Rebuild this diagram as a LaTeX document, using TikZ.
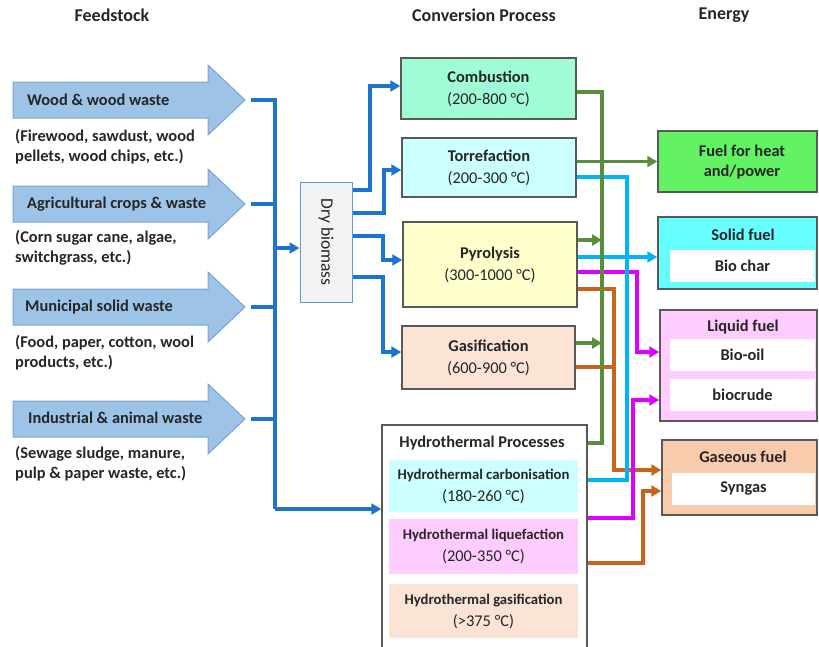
\documentclass[tikz,border=0pt]{standalone}
\usepackage{fontspec}
\setmainfont{Carlito}
\usetikzlibrary{arrows.meta,calc}
\definecolor{txt}{HTML}{262626}
\definecolor{bord}{HTML}{595959}
\definecolor{lblue}{HTML}{1C74CF}
\definecolor{lgreen}{HTML}{5A8D3C}
\definecolor{lcyan}{HTML}{00B4F5}
\definecolor{lmag}{HTML}{DD00FF}
\definecolor{lorange}{HTML}{C9621A}
\definecolor{fsfill}{HTML}{9DC3E6}
\definecolor{fsbord}{HTML}{7BA4D6}
\definecolor{cComb}{HTML}{A0FCD4}
\definecolor{cTorr}{HTML}{CCFFFF}
\definecolor{cPyro}{HTML}{FFFFCC}
\definecolor{cGasi}{HTML}{FBE4D6}
\definecolor{cLiq}{HTML}{FFCCFF}
\definecolor{cHeat}{HTML}{63F263}
\definecolor{cSolid}{HTML}{66FFFF}
\definecolor{cGas}{HTML}{F8CBAD}
\definecolor{cDry}{HTML}{F2F2F2}
\definecolor{cDryB}{HTML}{5B9BD5}
\begin{document}
\begin{tikzpicture}[x=1pt,y=-1pt,
  every node/.style={text=txt, inner sep=0pt, font=\fontsize{16.4}{22}\selectfont\bfseries},
  box/.style={draw=bord, line width=1.5pt, inner sep=0pt, align=center},
  sub/.style={inner sep=0pt, align=center},
  fsarrow/.style={draw=fsbord, line width=1pt, fill=fsfill},
  conn/.style={line width=3.4pt, line join=miter},
  tip/.style={-{Triangle[length=10pt,width=11pt]}},
  bl/.style={conn, draw=lblue},
  gr/.style={conn, draw=lgreen},
  cy/.style={conn, draw=lcyan},
  mg/.style={conn, draw=lmag},
  og/.style={conn, draw=lorange},
  hdr/.style={font=\fontsize{18}{22}\selectfont\bfseries},
  fsub/.style={anchor=west, align=left, font=\fontsize{16.4}{20}\selectfont\bfseries},
  hsub/.style={sub, font=\fontsize{14.7}{22}\selectfont\bfseries},
  tmp/.style={font=\fontsize{16.4}{22}\selectfont\mdseries}
]
\clip (0,0) rectangle (819,646);
\useasboundingbox (0,0) rectangle (819,646);

% headers
\node[hdr] (hFeed) at (112,15) {Feedstock};
\node[hdr] (hConv) at (484,15) {Conversion Process};
\node[hdr] (hEner) at (724,15) {Energy};

% feedstock arrows
\foreach \c/\n in {100/1,204/2,307/3,419/4}{
  \draw[fsarrow] (13,\c-18) -- (208,\c-18) -- (208,\c-35) -- (245,\c) -- (208,\c+35) -- (208,\c+18) -- (13,\c+18) -- cycle;
  \coordinate (f\n) at (251,\c);
}
\node[anchor=west] (l1) at (27,100) {Wood \& wood waste};
\node[anchor=west] (l2) at (27,204) {Agricultural crops \& waste};
\node[anchor=west] (l3) at (25,307) {Municipal solid waste};
\node[anchor=west] (l4) at (28,418) {Industrial \& animal waste};
\node[fsub] (s1) at (15,147) {(Firewood, sawdust, wood\\pellets, wood chips, etc.)};
\node[fsub] (s2) at (15,248) {(Corn sugar cane, algae,\\switchgrass, etc.)};
\node[fsub] (s3) at (15,353) {(Food, paper, cotton, wool\\products, etc.)};
\node[fsub] (s4) at (15,464) {(Sewage sludge, manure,\\pulp \& paper waste, etc.)};

% dry biomass
\node[draw=cDryB, line width=1pt, fill=cDry, minimum width=52pt, minimum height=120pt] (dry) at (326,242) {};
\node[rotate=-90, font=\fontsize{17.5}{22}\selectfont\mdseries] (dryt) at (dry.center) {Dry biomass};

% conversion boxes
\node[box, fill=cComb, minimum width=175pt, minimum height=61pt] (comb) at (488.5,88.5) {Combustion\\{\mdseries (200-800 °C)}};
\node[box, fill=cTorr, minimum width=174pt, minimum height=59pt] (torr) at (489,167.5) {Torrefaction\\{\mdseries (200-300 °C)}};
\node[box, fill=cPyro, minimum width=174pt, minimum height=85pt] (pyro) at (490,264.5) {Pyrolysis\\{\mdseries (300-1000 °C)}};
\node[box, fill=cGasi, minimum width=173pt, minimum height=63pt] (gasi) at (488.5,357.5) {Gasification\\{\mdseries (600-900 °C)}};
\node[box, fill=white, minimum width=205pt, minimum height=235pt] (hydro) at (484.5,542.5) {};
\node (hydt) at (482,443) {Hydrothermal Processes};
\node[hsub, fill=cTorr, minimum width=189pt, minimum height=52pt] (hcarb) at (483.5,486) {Hydrothermal carbonisation\\{\fontsize{16.4}{22}\selectfont\mdseries (180-260 °C)}};
\node[hsub, fill=cLiq, minimum width=189pt, minimum height=55pt] (hliq) at (483.5,546.5) {Hydrothermal liquefaction\\{\fontsize{16.4}{22}\selectfont\mdseries (200-350 °C)}};
\node[hsub, fill=cGasi, minimum width=189pt, minimum height=54pt] (hgas) at (483.5,611) {Hydrothermal gasification\\{\fontsize{16.4}{22}\selectfont\mdseries (>375 °C)}};

% energy boxes
\node[box, fill=cHeat, minimum width=159pt, minimum height=61pt] (heat) at (737.5,161.5) {};
\node[align=center, font=\fontsize{16.4}{20}\selectfont\bfseries] (heatt) at (742,162) {Fuel for heat\\and/power};
\node[box, fill=cSolid, minimum width=159pt, minimum height=72pt] (solid) at (737.5,253) {};
\node (solidt) at (743,235) {Solid fuel};
\node[sub, fill=white, minimum width=145pt, minimum height=32pt] (biochar) at (742.5,266) {Bio char};
\node[box, fill=cLiq, minimum width=157pt, minimum height=111pt] (liquid) at (738.5,365.5) {};
\node (liquidt) at (743,327) {Liquid fuel};
\node[sub, fill=white, minimum width=145pt, minimum height=32pt] (biooil) at (742.5,355) {Bio-oil};
\node[sub, fill=white, minimum width=145pt, minimum height=32pt] (biocrude) at (742.5,395) {biocrude};
\node[box, fill=cGas, minimum width=155pt, minimum height=75pt] (gas) at (739.5,477.5) {};
\node (gast) at (743,457) {Gaseous fuel};
\node[sub, fill=white, minimum width=143pt, minimum height=32pt] (syngas) at (743.5,489) {Syngas};

% blue feed connectors
\coordinate (bT) at (275,100);
\coordinate (bB) at (275,509);
\coordinate (bD) at (275,248);
\draw[bl] (f1) -- (bT) -- (bB);
\draw[bl] (f2) -- (f2 -| bT);
\draw[bl] (f3) -- (f3 -| bT);
\draw[bl] (f4) -- (f4 -| bT);
\draw[bl,tip] (bD) -- (dry.west |- bD);
\draw[bl,tip] (bB) -- (hydro.west |- bB);

% dry biomass to processes
\coordinate (d1) at (370,190); \coordinate (d1b) at (370,86);
\coordinate (d2) at (384,213); \coordinate (d2b) at (384,170);
\coordinate (d3) at (383,236); \coordinate (d3b) at (383,260);
\coordinate (d4) at (383,277); \coordinate (d4b) at (383,352);
\draw[bl,tip] (dry.east |- d1) -- (d1) -- (d1b) -- (comb.west |- d1b);
\draw[bl,tip] (dry.east |- d2) -- (d2) -- (d2b) -- (torr.west |- d2b);
\draw[bl,tip] (dry.east |- d3) -- (d3) -- (d3b) -- (pyro.west |- d3b);
\draw[bl,tip] (dry.east |- d4) -- (d4) -- (d4b) -- (gasi.west |- d4b);

% orange
\coordinate (o1) at (614,289); \coordinate (o2) at (614,470);
\coordinate (o3) at (614,367);
\coordinate (o4) at (643,563); \coordinate (o5) at (643,491);
\draw[og,tip] (pyro.east |- o1) -- (o1) -- (o2) -- (gas.west |- o2);
\draw[og] (gasi.east |- o3) -- (o3);
\draw[og,tip] (hydro.east |- o4) -- (o4) -- (o5) -- (gas.west |- o5);

% magenta
\coordinate (m1) at (637,272); \coordinate (m2) at (637,352);
\coordinate (m3) at (633,518); \coordinate (m4) at (633,400);
\draw[mg,tip] (pyro.east |- m1) -- (m1) -- (m2) -- (liquid.west |- m2);
\draw[mg,tip] (hydro.east |- m3) -- (m3) -- (m4) -- (liquid.west |- m4);

% cyan
\coordinate (c1) at (627,177); \coordinate (c2) at (627,480);
\coordinate (cP) at (658,257);
\draw[cy] (torr.east |- c1) -- (c1) -- (c2) -- (hydro.east |- c2);
\draw[cy,tip] (pyro.east |- cP) -- (solid.west |- cP);

% green
\coordinate (gTop) at (602,92); \coordinate (gBot) at (602,443);
\coordinate (gP) at (602,240); \coordinate (gG) at (602,343);
\draw[gr] (comb.east |- gTop) -- (gTop) -- (gBot) -- (hydro.east |- gBot);
\draw[gr,tip] (torr.east |- heat.west) -- (heat.west);
\draw[gr,tip] (pyro.east |- gP) -- (gP);
\draw[gr,tip] (gasi.east |- gG) -- (gG);
\end{tikzpicture}
\end{document}
